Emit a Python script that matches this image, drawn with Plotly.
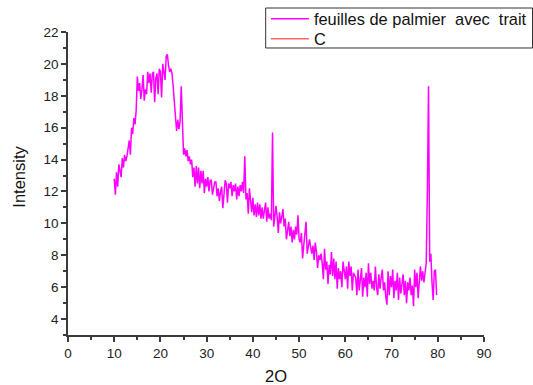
import numpy as np
import plotly.graph_objects as go

# 2-theta scan: start 10.0 deg, step 0.25 deg
x_start = 10.0
x_step = 0.25

# Intensity readings, 4 per degree (d, d+.25, d+.5, d+.75)
intensity = [
    12.8, 11.8, 13.2, 12.3,   # 10
    13.7, 13.4, 12.9, 14.1,   # 11
    13.5, 14.3, 13.9, 14.2,   # 12
    14.9, 15.2, 14.3, 16.0,   # 13
    15.6, 16.6, 16.2, 17.1,   # 14
    19.2, 18.3, 18.8, 17.8,   # 15
    18.4, 19.3, 17.7, 18.4,   # 16
    18.1, 19.5, 18.8, 19.4,   # 17
    18.2, 19.4, 19.5, 17.6,   # 18
    19.1, 19.4, 18.1, 19.7,   # 19
    19.5, 17.9, 20.0, 19.6,   # 20
    19.0, 20.5, 20.6, 19.9,   # 21
    19.5, 19.7, 19.4, 18.6,   # 22
    17.3, 16.7, 15.8, 16.5,   # 23
    15.9, 16.4, 18.6, 16.5,   # 24
    14.3, 14.7, 14.2, 14.6,   # 25
    13.9, 14.2, 13.7, 14.0,   # 26
    12.9, 13.5, 12.3, 13.6,   # 27
    12.5, 13.5, 12.2, 13.3,   # 28
    12.5, 13.3, 11.9, 12.8,   # 29
    12.3, 12.9, 12.0, 12.7,   # 30
    12.7, 11.8, 12.3, 12.6,   # 31
    12.6, 11.7, 12.2, 11.4,   # 32
    12.0, 12.3, 10.95, 12.1,  # 33
    12.7, 12.5, 11.3, 12.5,   # 34
    12.2, 12.6, 11.7, 12.4,   # 35
    12.0, 12.5, 11.5, 12.3,   # 36
    11.7, 12.4, 12.0, 12.6,   # 37
    11.9, 14.2, 11.5, 11.9,   # 38
    10.6, 12.2, 11.2, 10.7,   # 39
    11.6, 10.5, 11.2, 10.4,   # 40
    11.3, 10.5, 11.2, 10.3,   # 41
    11.0, 10.3, 10.8, 11.3,   # 42
    10.1, 11.0, 10.3, 10.6,   # 43
    10.2, 15.7, 9.8, 10.6,    # 44
    11.1, 10.4, 9.4, 10.7,    # 45
    10.0, 10.4, 10.9, 9.8,    # 46
    10.3, 9.0, 9.6, 10.1,     # 47
    9.2, 9.8, 8.8, 9.6,       # 48
    9.0, 9.8, 9.3, 10.5,      # 49
    9.0, 8.8, 9.4, 7.8,       # 50
    8.6, 9.2, 10.1, 8.1,      # 51
    8.5, 9.0, 8.5, 8.1,       # 52
    8.6, 7.7, 8.8, 8.2,       # 53
    7.2, 8.0, 7.7, 8.1,       # 54
    7.5, 6.5, 8.4, 7.1,       # 55
    7.6, 6.2, 7.4, 6.8,       # 56
    8.2, 6.7, 7.8, 6.5,       # 57
    7.6, 5.9, 7.2, 6.5,       # 58
    7.0, 6.0, 7.6, 6.8,       # 59
    6.5, 7.3, 5.9, 7.6,       # 60
    6.7, 7.3, 5.8, 6.9,       # 61
    6.7, 6.6, 5.5, 7.1,       # 62
    5.8, 6.8, 7.2, 5.4,       # 63
    6.6, 6.0, 6.9, 5.4,       # 64
    7.5, 6.2, 6.9, 5.9,       # 65
    6.4, 5.8, 7.3, 6.0,       # 66
    5.5, 6.8, 5.9, 6.6,       # 67
    7.1, 5.8, 6.3, 5.4,       # 68
    4.9, 7.0, 5.5, 6.7,       # 69
    6.0, 7.1, 5.3, 6.4,       # 70
    5.8, 6.9, 5.2, 6.6,       # 71
    5.6, 6.2, 6.8, 5.5,       # 72
    6.4, 5.0, 6.3, 5.8,       # 73
    6.6, 5.5, 6.1, 4.8,       # 74
    7.1, 6.0, 6.9, 5.3,       # 75
    6.7, 7.3, 6.4, 7.0,       # 76
    6.3, 6.8, 7.5, 12.0,      # 77
    18.6, 7.6, 8.1, 6.3,      # 78
    5.2, 7.0, 7.1, 5.5,       # 79
]
two_theta = [round(x_start + i * x_step, 2) for i in range(len(intensity))]

series_names = ["feuilles de palmier\u00a0 avec\u00a0 trait", "C"]
series_colors = ["#FF00FF", "#FF6666"]

x_ticks = [0, 10, 20, 30, 40, 50, 60, 70, 80, 90]
y_ticks = [4, 6, 8, 10, 12, 14, 16, 18, 20, 22]

FONT = "Liberation Sans, Arial, sans-serif"

fig = go.Figure()
fig.add_trace(go.Scatter(
    x=two_theta, y=intensity, mode="lines", name=series_names[0],
    line=dict(color=series_colors[0], width=1.5), legend="legend",
))
fig.add_trace(go.Scatter(
    x=[None], y=[None], mode="lines", name=series_names[1],
    line=dict(color=series_colors[1], width=1.5), legend="legend2",
))

axis_color = "#3a3a3a"
leg_common = dict(
    xref="container", yref="container",
    xanchor="left", yanchor="middle",
    borderwidth=0, bgcolor="rgba(0,0,0,0)",
    font=dict(family=FONT, size=16.4, color="#111111"),
    itemwidth=38,
)
fig.update_layout(
    width=533, height=385,
    margin=dict(l=68, r=49, t=32, b=50, autoexpand=False),
    paper_bgcolor="white", plot_bgcolor="white",
    font=dict(family=FONT, size=13.5, color="#222222"),
    showlegend=True,
    legend=dict(x=0.4989, y=0.9506, **leg_common),
    legend2=dict(x=0.4989, y=0.8987, **leg_common),
    shapes=[dict(
        type="rect", xref="paper", yref="paper",
        x0=0.4752, x1=1.1166, y0=0.9472, y1=1.0792,
        line=dict(color="#333333", width=1), fillcolor="rgba(0,0,0,0)",
        layer="above",
    )],
    annotations=[dict(
        text="Intensity", textangle=-90, xref="paper", yref="paper",
        x=0, y=0.5226, xanchor="center", yanchor="middle", xshift=-49,
        showarrow=False, font=dict(family=FONT, size=16.5, color="#111111"),
    )],
    xaxis=dict(
        range=[0, 90], tickvals=x_ticks, ticktext=[str(v) for v in x_ticks],
        showgrid=False, zeroline=False, showline=True,
        linecolor=axis_color, linewidth=1.5,
        ticks="outside", ticklen=5, tickwidth=1.5, tickcolor=axis_color,
        minor=dict(dtick=5, ticks="outside", ticklen=3, tickwidth=1.5, tickcolor=axis_color, showgrid=False),
        title=dict(text="2O", font=dict(family=FONT, size=16.5, color="#111111"), standoff=12),
        tickfont=dict(family=FONT, size=13.5, color="#222222"),
    ),
    yaxis=dict(
        range=[3, 22], tickvals=y_ticks, ticktext=[str(v) for v in y_ticks],
        showgrid=False, zeroline=False, showline=True,
        linecolor=axis_color, linewidth=1.5,
        ticks="outside", ticklen=5, tickwidth=1.5, tickcolor=axis_color,
        minor=dict(dtick=1, tick0=3, ticks="outside", ticklen=3, tickwidth=1.5, tickcolor=axis_color, showgrid=False),
        tickfont=dict(family=FONT, size=13.5, color="#222222"),
    ),
)

fig.write_html("out.html")
